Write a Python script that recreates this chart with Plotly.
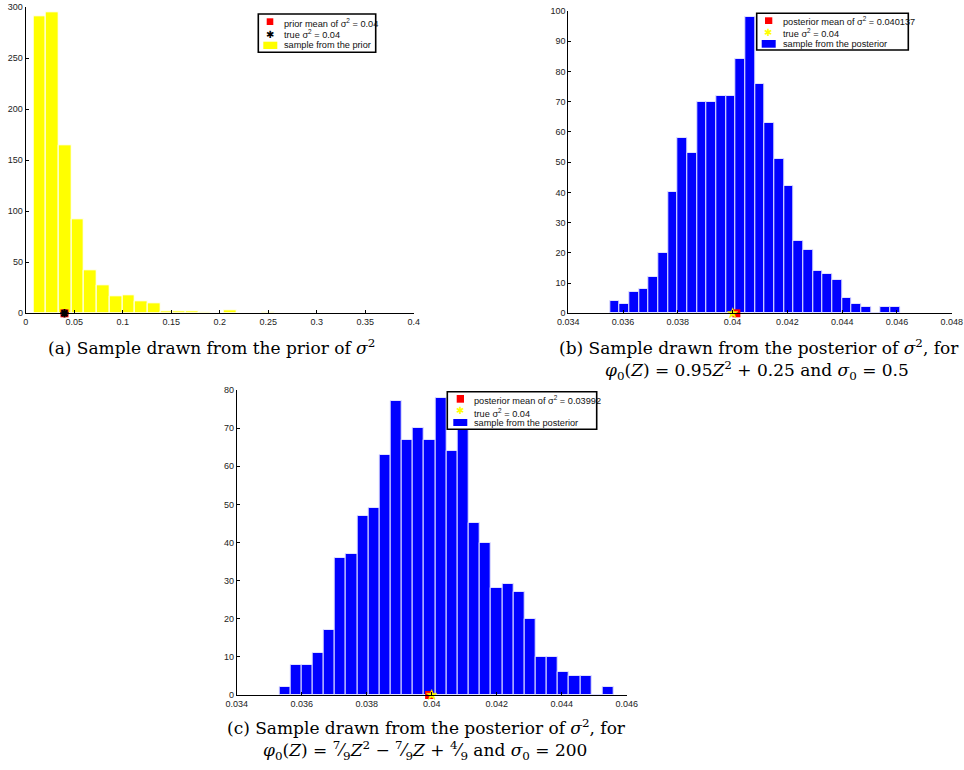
import numpy as np
import plotly.graph_objects as go

W, H = 964, 770

# ---------------- data ----------------
# (a) prior sample histogram
a_bin_start = 0.0078
a_bin_width = 0.0131
a_counts = [291, 295, 165, 92, 42, 27, 17, 18, 12, 10, 2, 2, 2, 1, 0,
            3, 0, 0, 1, 0, 0, 0, 0, 0, 0, 0, 0, 0, 0, 0]
a_prior_mean = 0.04
a_true = 0.04
a_xticks = [0, 0.05, 0.1, 0.15, 0.2, 0.25, 0.3, 0.35, 0.4]
a_xticktext = ["0", "0.05", "0.1", "0.15", "0.2", "0.25", "0.3", "0.35", "0.4"]
a_yticks = [0, 50, 100, 150, 200, 250, 300]
a_legend = ["prior mean of σ<sup>2</sup> = 0.04", "true σ<sup>2</sup> = 0.04",
            "sample from the prior"]

# (b) posterior sample histogram
b_bin_start = 0.03552
b_bin_width = 0.000353
b_counts = [4, 3, 7, 8, 12, 20, 40, 58, 53, 70, 70, 72, 72, 84, 98,
            76, 63, 51, 42, 24, 21, 14, 13, 11, 5, 3, 2, 0, 2, 2]
b_post_mean = 0.040137
b_true = 0.04
b_xticks = [0.034, 0.036, 0.038, 0.04, 0.042, 0.044, 0.046, 0.048]
b_xticktext = ["0.034", "0.036", "0.038", "0.04", "0.042", "0.044", "0.046", "0.048"]
b_yticks = [0, 10, 20, 30, 40, 50, 60, 70, 80, 90, 100]
b_legend = ["posterior mean of σ<sup>2</sup> = 0.040137", "true σ<sup>2</sup> = 0.04",
            "sample from the posterior"]

# (c) posterior sample histogram
c_bin_start = 0.03531
c_bin_width = 0.000343
c_counts = [2, 8, 8, 11, 17, 36, 37, 47, 49, 63, 77, 67, 70, 67, 78,
            64, 72, 45, 40, 28, 29, 27, 20, 10, 10, 6, 5, 5, 0, 2]
c_post_mean = 0.03992
c_true = 0.04
c_xticks = [0.034, 0.036, 0.038, 0.04, 0.042, 0.044, 0.046]
c_xticktext = ["0.034", "0.036", "0.038", "0.04", "0.042", "0.044", "0.046"]
c_yticks = [0, 10, 20, 30, 40, 50, 60, 70, 80]
c_legend = ["posterior mean of σ<sup>2</sup> = 0.03992", "true σ<sup>2</sup> = 0.04",
            "sample from the posterior"]


def centers(start, width, n):
    return [start + width * (i + 0.5) for i in range(n)]


# ---------------- figure ----------------
fig = go.Figure()

tickfont = dict(family="Liberation Sans, Arial, sans-serif", size=9, color="#222")
legfont = dict(family="Liberation Sans, Arial, sans-serif", size=9.2, color="#111")


def px_x(p):
    return p / W


def px_y(p):
    return (H - p) / H


def axis_common():
    return dict(showline=True, linecolor="black", linewidth=1, ticks="inside",
                ticklen=3, tickcolor="black", showgrid=False, zeroline=False,
                tickfont=tickfont, fixedrange=True, automargin=False)


def add_panel(xa, ya, bstart, bwidth, counts, mean, true, barcolor, edgecolor,
              true_marker):
    fig.add_trace(go.Bar(x=centers(bstart, bwidth, len(counts)), y=counts,
                         width=bwidth,
                         marker=dict(color=barcolor, line=dict(color=edgecolor, width=1)),
                         xaxis=xa, yaxis=ya, showlegend=False, hoverinfo="x+y"))
    fig.add_trace(go.Scatter(x=[mean], y=[0], mode="markers",
                             marker=dict(symbol="square", size=8, color="red"),
                             xaxis=xa, yaxis=ya, showlegend=False, cliponaxis=False))
    fig.add_trace(go.Scatter(x=[true], y=[0], mode="markers", marker=true_marker,
                             xaxis=xa, yaxis=ya, showlegend=False, cliponaxis=False))


add_panel("x", "y", a_bin_start, a_bin_width, a_counts, a_prior_mean, a_true,
          "#ffff00", "white",
          dict(symbol="asterisk-open", size=7, color="black",
               line=dict(color="black", width=2)))
add_panel("x2", "y2", b_bin_start, b_bin_width, b_counts, b_post_mean, b_true,
          "#0000ff", "#e0e0ff",
          dict(symbol="star", size=8, color="#ffff00",
               line=dict(color="#e6e600", width=0.5)))
add_panel("x3", "y3", c_bin_start, c_bin_width, c_counts, c_post_mean, c_true,
          "#0000ff", "#e0e0ff",
          dict(symbol="star", size=8, color="#ffff00",
               line=dict(color="#e6e600", width=0.5)))

shapes = []
annotations = []


def legend(box, sq, star_c, star_color, patch, text_x, rows, labels, patch_color):
    x0, y0, x1, y1 = box
    shapes.append(dict(type="rect", xref="paper", yref="paper",
                       x0=px_x(x0), x1=px_x(x1), y0=px_y(y1), y1=px_y(y0),
                       line=dict(color="black", width=1.6), fillcolor="white",
                       layer="above"))
    sx0, sy0, sx1, sy1 = sq
    shapes.append(dict(type="rect", xref="paper", yref="paper",
                       x0=px_x(sx0), x1=px_x(sx1), y0=px_y(sy1), y1=px_y(sy0),
                       line=dict(width=0), fillcolor="red", layer="above"))
    px0, py0, px1, py1 = patch
    shapes.append(dict(type="rect", xref="paper", yref="paper",
                       x0=px_x(px0), x1=px_x(px1), y0=px_y(py1), y1=px_y(py0),
                       line=dict(width=0), fillcolor=patch_color, layer="above"))
    annotations.append(dict(x=px_x(star_c[0]), y=px_y(star_c[1]), xref="paper",
                            yref="paper", text="✱", showarrow=False,
                            xanchor="center", yanchor="middle",
                            font=dict(family="DejaVu Sans", size=10, color=star_color)))
    for ry, lab in zip(rows, labels):
        annotations.append(dict(x=px_x(text_x), y=px_y(ry), xref="paper", yref="paper",
                                text=lab, showarrow=False, xanchor="left",
                                yanchor="middle", font=legfont))


legend((258.3, 14, 375.7, 52.3), (266.7, 18.3, 273.3, 25), (270, 34.3), "black",
       (263.3, 41.7, 277.3, 49), 282.3, [22.5, 34.3, 45.5], a_legend, "#ffff00")
legend((756.7, 13.3, 908.3, 50), (765, 17.3, 772.3, 24), (768.3, 32.3), "#ffff00",
       (761.7, 40, 775.7, 47.7), 780.7, [21.5, 33.5, 44], b_legend, "#0000ff")
legend((447.3, 391.7, 596.7, 429.3), (456.7, 395, 464, 402.7), (460, 410.7), "#ffff00",
       (453.3, 419, 467.3, 426), 471.7, [399.5, 412.5, 423], c_legend, "#0000ff")

capfont = dict(family="DejaVu Serif, Liberation Serif, serif", size=17, color="black")
captions = [
    (211, 347, "(a) Sample drawn from the prior of <i>σ</i><sup>2</sup>"),
    (759, 347, "(b) Sample drawn from the posterior of <i>σ</i><sup>2</sup>, for"),
    (757, 370, "<i>φ</i><sub>0</sub>(<i>Z</i>) = 0.95<i>Z</i><sup>2</sup> + 0.25 and <i>σ</i><sub>0</sub> = 0.5"),
    (426, 727, "(c) Sample drawn from the posterior of <i>σ</i><sup>2</sup>, for"),
    (425, 750, "<i>φ</i><sub>0</sub>(<i>Z</i>) = <sup>7</sup>⁄<sub>9</sub><i>Z</i><sup>2</sup> − <sup>7</sup>⁄<sub>9</sub><i>Z</i> + <sup>4</sup>⁄<sub>9</sub> and <i>σ</i><sub>0</sub> = 200"),
]
for cx, cy, txt in captions:
    annotations.append(dict(x=px_x(cx), y=px_y(cy), xref="paper", yref="paper",
                            text=txt, showarrow=False, xanchor="center",
                            yanchor="middle", font=capfont))

fig.update_layout(
    width=W, height=H,
    margin=dict(l=0, r=0, t=0, b=0, autoexpand=False),
    paper_bgcolor="white", plot_bgcolor="white",
    bargap=0, showlegend=False,
    xaxis=dict(axis_common(), domain=[px_x(25.7), px_x(413.7)], range=[0, 0.4],
               tickvals=a_xticks, ticktext=a_xticktext, anchor="y"),
    yaxis=dict(axis_common(), domain=[px_y(313.3), px_y(7.3)], range=[0, 300],
               tickvals=a_yticks, anchor="x"),
    xaxis2=dict(axis_common(), domain=[px_x(568.3), px_x(951.7)], range=[0.034, 0.048],
                tickvals=b_xticks, ticktext=b_xticktext, anchor="y2"),
    yaxis2=dict(axis_common(), domain=[px_y(313.3), px_y(11)], range=[0, 100],
                tickvals=b_yticks, anchor="x2"),
    xaxis3=dict(axis_common(), domain=[px_x(236.7), px_x(626.7)], range=[0.034, 0.046],
                tickvals=c_xticks, ticktext=c_xticktext, anchor="y3"),
    yaxis3=dict(axis_common(), domain=[px_y(695), px_y(390)], range=[0, 80],
                tickvals=c_yticks, anchor="x3"),
    shapes=shapes,
    annotations=annotations,
)

fig.write_html("out.html")
